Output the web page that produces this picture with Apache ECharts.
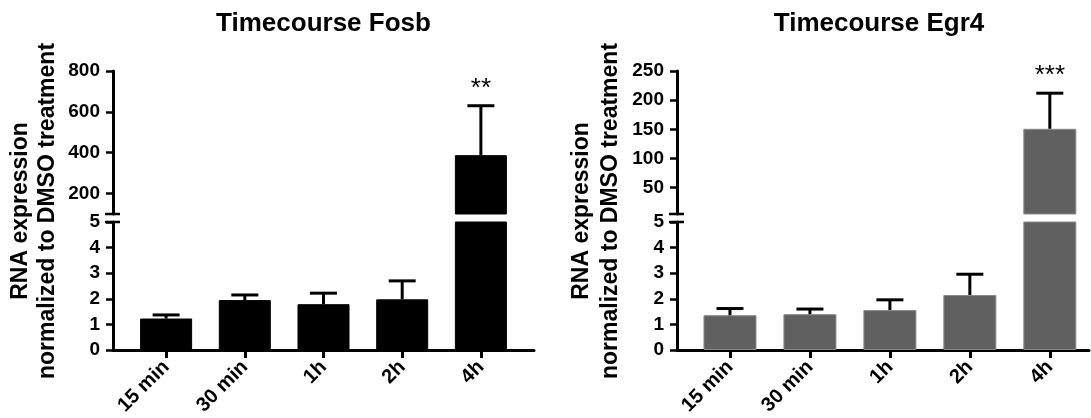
<!DOCTYPE html>
<html>
<head>
<meta charset="utf-8">
<title>Timecourse Fosb / Egr4</title>
<script src="https://cdn.jsdelivr.net/npm/echarts@6/dist/echarts.min.js"></script>
<style>
  html, body { margin: 0; padding: 0; background: #fff; }
  #main { width: 1091px; height: 418px; }
</style>
</head>
<body>
<div id="main"></div>
<script>
// 数据
const categories = ['15 min', '30 min', '1h', '2h', '4h']
const fosbMean = [1.23, 1.95, 1.79, 1.98, 388]
const fosbErr = [0.14, 0.20, 0.43, 0.72, 242]
const fosbStars = ['', '', '', '', '**']
const egr4Mean = [1.36, 1.40, 1.56, 2.15, 151]
const egr4Err = [0.26, 0.20, 0.40, 0.81, 61]
const egr4Stars = ['', '', '', '', '***']
// 断轴：下段 0-5，上段
const lowTicks = [0, 1, 2, 3, 4, 5]
const fosbHighTicks = [200, 400, 600, 800]
const egr4HighTicks = [50, 100, 150, 200, 250]

const FONT = "'Liberation Sans', Arial, sans-serif"

let mychart = echarts.init(document.getElementById('main'))

// 两个面板的位置
let panels = [
  { left: 113, width: 421, xMin: -0.675, xMax: 4.675, highMin: 100, highMax: 800, highTicks: fosbHighTicks,
    mean: fosbMean, err: fosbErr, stars: fosbStars, color: '#000', border: '#000', barWidth: 52,
    title: 'Timecourse Fosb', nameX: [21, 48] },
  { left: 677, width: 412, xMin: -0.6625, xMax: 4.49, highMin: 5, highMax: 250, highTicks: egr4HighTicks,
    mean: egr4Mean, err: egr4Err, stars: egr4Stars, color: '#606060', border: '#8a8a8a', barWidth: 53,
    title: 'Timecourse Egr4', nameX: [582, 611] }
]

const UP_TOP = 71, UP_H = 143, LOW_TOP = 222, LOW_H = 129

let grids = [], xAxes = [], yAxes = [], series = [], graphics = []

let lineStyle = { color: '#000', width: 3 }
let labelStyle = { color: '#000', fontFamily: FONT, fontWeight: 'bold', fontSize: 19 }

// 误差线（只画上半部分）
function errorBar(p, isLow) {
  return function (params, api) {
    let i = params.dataIndex
    let m = api.value(1)
    if (isLow && m > 5) return null
    if (!isLow && m < p.highMin) return null
    let x = api.value(0)
    let a = api.coord([x, m])
    let b = api.coord([x, m + api.value(2)])
    let half = 13.5
    let children = [
      { type: 'line', shape: { x1: a[0], y1: a[1], x2: b[0], y2: b[1] }, style: { stroke: '#000', lineWidth: 3 } },
      { type: 'line', shape: { x1: b[0] - half, y1: b[1], x2: b[0] + half, y2: b[1] }, style: { stroke: '#000', lineWidth: 3 } }
    ]
    if (p.stars[i]) {
      children.push({
        type: 'text', x: b[0], y: b[1] - 17,
        style: { text: p.stars[i], fill: '#000', font: '26px ' + FONT, textAlign: 'center', textVerticalAlign: 'middle' }
      })
    }
    return { type: 'group', children: children }
  }
}

panels.forEach(function (p, k) {
  let gUp = k * 2, gLow = k * 2 + 1
  grids.push({ left: p.left, top: UP_TOP, width: p.width, height: UP_H })
  grids.push({ left: p.left, top: LOW_TOP, width: p.width, height: LOW_H })

  xAxes.push({ type: 'value', gridIndex: gUp, min: p.xMin, max: p.xMax, show: false })
  xAxes.push({
    type: 'value', gridIndex: gLow, min: p.xMin, max: p.xMax,
    splitLine: { show: false },
    axisLine: { onZero: false, lineStyle: lineStyle },
    axisTick: { customValues: [0, 1, 2, 3, 4], length: 8, lineStyle: lineStyle },
    axisLabel: {
      customValues: [0, 1, 2, 3, 4], rotate: 45, margin: 14, fontSize: 20,
      color: '#000', fontFamily: FONT, fontWeight: 'bold',
      formatter: function (v) { return categories[Math.round(v)] }
    }
  })

  yAxes.push({
    type: 'value', gridIndex: gUp, min: p.highMin, max: p.highMax,
    splitLine: { show: false },
    axisLine: { show: true, onZero: false, lineStyle: lineStyle },
    axisTick: { show: true, customValues: p.highTicks, length: 7, lineStyle: { color: '#000', width: 2.5 } },
    axisLabel: Object.assign({ customValues: p.highTicks, margin: 13 }, labelStyle)
  })
  yAxes.push({
    type: 'value', gridIndex: gLow, min: 0, max: 5, interval: 1,
    splitLine: { show: false },
    axisLine: { show: true, onZero: false, lineStyle: lineStyle },
    axisTick: { show: true, customValues: lowTicks, length: 7, lineStyle: { color: '#000', width: 2.5 } },
    axisLabel: Object.assign({ customValues: lowTicks, margin: 13, showMaxLabel: true }, labelStyle)
  })

  let barData = p.mean.map(function (v, i) { return [i, v] })
  let errData = p.mean.map(function (v, i) { return [i, v, p.err[i]] })
  let barStyle = { color: p.color, borderColor: p.border, borderWidth: 1 }

  series.push({ type: 'bar', xAxisIndex: gUp, yAxisIndex: gUp, data: barData, barWidth: p.barWidth, itemStyle: barStyle, clip: true, silent: true })
  series.push({ type: 'bar', xAxisIndex: gLow, yAxisIndex: gLow, data: barData, barWidth: p.barWidth, itemStyle: barStyle, clip: true, silent: true })
  series.push({ type: 'custom', xAxisIndex: gUp, yAxisIndex: gUp, data: errData, renderItem: errorBar(p, false), z: 3, silent: true })
  series.push({ type: 'custom', xAxisIndex: gLow, yAxisIndex: gLow, data: errData, renderItem: errorBar(p, true), z: 3, silent: true })

  // 标题
  graphics.push({
    type: 'text', x: p.left + p.width / 2 + (k === 1 ? -4 : 0), y: 24,
    style: { text: p.title, fill: '#000', font: 'bold 26px ' + FONT, textAlign: 'center', textVerticalAlign: 'middle' }
  })
  // y轴名称（两行）
  let names = ['RNA expression', 'normalized to DMSO treatment']
  names.forEach(function (t, j) {
    graphics.push({
      type: 'text', x: p.nameX[j], y: 211, rotation: Math.PI / 2,
      style: { text: t, fill: '#000', font: 'bold 23px ' + FONT, textAlign: 'center', textVerticalAlign: 'middle' }
    })
  })
  // 断轴符号
  ;[UP_TOP + UP_H, LOW_TOP].forEach(function (y) {
    graphics.push({
      type: 'line', shape: { x1: p.left - 8, y1: y, x2: p.left + 7, y2: y },
      style: { stroke: '#000', lineWidth: 2.5 }
    })
  })
})

let option = {
  animation: false,
  grid: grids,
  xAxis: xAxes,
  yAxis: yAxes,
  series: series,
  graphic: graphics
}

mychart.setOption(option)
</script>
</body>
</html>
